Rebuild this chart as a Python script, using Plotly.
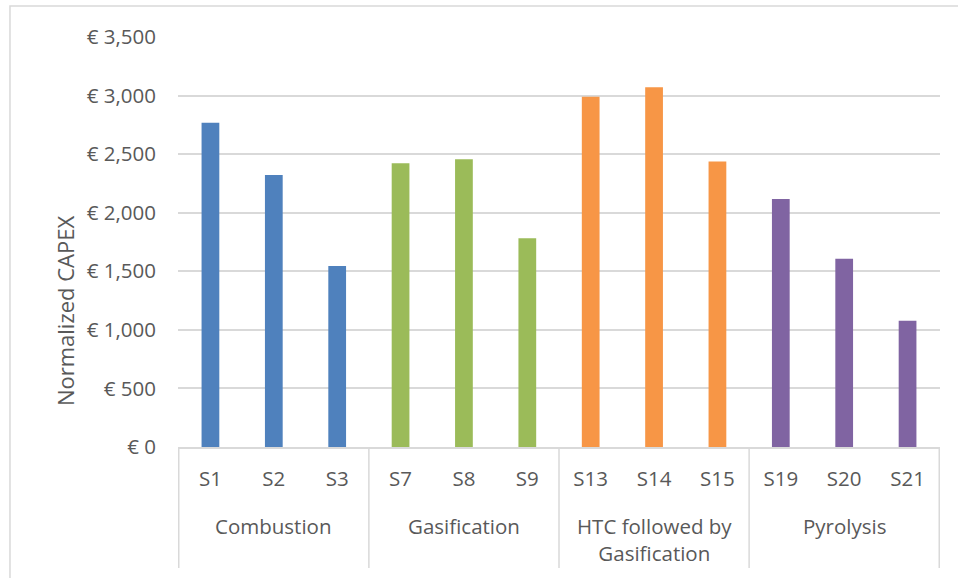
import plotly.graph_objects as go

# Normalized CAPEX per scenario, grouped by conversion route
groups = ["Combustion", "Gasification", "HTC followed by<br>Gasification", "Pyrolysis"]
scenarios = [
    ["S1", "S2", "S3"],
    ["S7", "S8", "S9"],
    ["S13", "S14", "S15"],
    ["S19", "S20", "S21"],
]
capex = [
    [2767, 2321, 1546],
    [2423, 2457, 1782],
    [2991, 3071, 2438],
    [2117, 1606, 1078],
]
colors = ["#4F81BD", "#9BBB59", "#F79646", "#8064A2"]
y_ticks = [0, 500, 1000, 1500, 2000, 2500, 3000, 3500]
y_labels = ["€ {:,}".format(v) for v in y_ticks]

FONT = "Open Sans"
TEXT = "#595959"
LINE = "#D9D9D9"
FS = 20.5

fig = go.Figure()
for names, vals, col in zip(scenarios, capex, colors):
    fig.add_trace(go.Bar(x=names, y=vals, marker=dict(color=col, line=dict(width=0)),
                         width=0.28, showlegend=False))

all_names = [n for g in scenarios for n in g]

# group dividers below the category axis
shapes = []
edges = [-0.5]
for g in scenarios:
    edges.append(edges[-1] + len(g))
for e in edges:
    shapes.append(dict(type="line", xref="x", yref="paper", x0=e, x1=e, y0=0, y1=-0.295,
                       line=dict(color=LINE, width=1.5)))
# chart border
shapes.append(dict(type="rect", xref="paper", yref="paper", x0=-0.2205, x1=1.05, y0=-0.4, y1=1.0756,
                   line=dict(color=LINE, width=1.5), layer="below"))

annotations = []
start = 0
for g, names in zip(groups, scenarios):
    mid = start + (len(names) - 1) / 2
    annotations.append(dict(x=mid, xref="x", y=-0.153, yref="paper", text=g, showarrow=False,
                            xanchor="center", yanchor="top",
                            font=dict(family=FONT, size=FS, color=TEXT)))
    start += len(names)
annotations.append(dict(x=-0.148, xref="paper", y=0.332, yref="paper", text="Normalized CAPEX",
                        textangle=-90, showarrow=False, xanchor="center", yanchor="middle",
                        font=dict(family=FONT, size=22, color=TEXT)))

fig.update_layout(
    width=958, height=578,
    margin=dict(l=178, r=18, t=37, b=131),
    paper_bgcolor="white", plot_bgcolor="white",
    bargap=0.72,
    shapes=shapes, annotations=annotations,
    font=dict(family=FONT, size=FS, color=TEXT),
    xaxis=dict(type="category", categoryorder="array", categoryarray=all_names,
               showline=True, linecolor=LINE, linewidth=1.5, showgrid=False,
               ticks="", ticklabelstandoff=13, tickfont=dict(family=FONT, size=FS, color=TEXT)),
    yaxis=dict(range=[0, 3500], tickmode="array", tickvals=y_ticks, ticktext=y_labels,
               showgrid=True, gridcolor=LINE, gridwidth=1.5, zeroline=False, showline=False,
               ticks="", ticklabelstandoff=21, tickfont=dict(family=FONT, size=FS, color=TEXT)),
)

fig.write_html("out.html")
